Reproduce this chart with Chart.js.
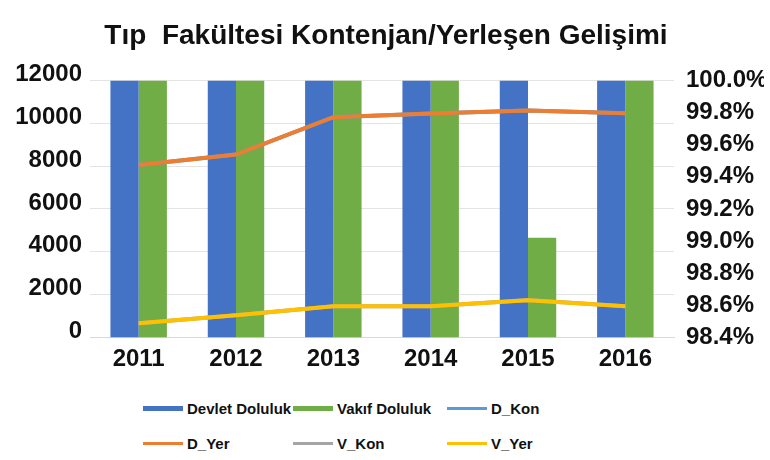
<!DOCTYPE html>
<html>
<head>
<meta charset="utf-8">
<script src="https://cdn.jsdelivr.net/npm/chart.js@4.4.1/dist/chart.umd.min.js"></script>
<style>
  body { margin: 0; background: #fff; }
  #wrap { position: relative; width: 770px; height: 460px; }
  #chartBox { position: absolute; left: 0; top: 0; width: 770px; height: 382px; }
  #legend {
    position: absolute; left: 143px; top: 397px;
    display: grid; grid-template-columns: 150px 154px 120px; row-gap: 13px;
    font-family: "Liberation Sans", Arial, sans-serif;
    font-weight: bold; font-size: 15px; color: #111;
  }
  .item { display: flex; align-items: center; height: 22px; white-space: nowrap; }
  .swatch { width: 40px; margin-right: 4px; flex: none; }
</style>
</head>
<body>
<div id="wrap">
  <div id="chartBox"><canvas id="chart"></canvas></div>
  <div id="legend"></div>
</div>
<script>
// chart data
const years = ['2011', '2012', '2013', '2014', '2015', '2016'];
const devletDoluluk = [100.0, 100.0, 100.0, 100.0, 100.0, 100.0];
const vakifDoluluk = [100.0, 100.0, 100.0, 100.0, 99.02, 100.0];
const dKon = [8050, 8540, 10290, 10460, 10600, 10470];
const dYer = [8050, 8540, 10290, 10460, 10600, 10470];
const vKon = [650, 1030, 1450, 1450, 1745, 1450];
const vYer = [650, 1030, 1450, 1450, 1730, 1450];

const leftTicks = [0, 2000, 4000, 6000, 8000, 10000, 12000];
const rightTicks = [98.4, 98.6, 98.8, 99.0, 99.2, 99.4, 99.6, 99.8, 100.0];

const FONT = '"Liberation Sans", Arial, sans-serif';

function lineSet(label, data, color, order) {
    return {
        type: 'line',
        label: label,
        data: data,
        yAxisID: 'y',
        borderColor: color,
        backgroundColor: color,
        borderWidth: 4,
        pointRadius: 0,
        tension: 0,
        order: order
    };
}

const ctx = document.getElementById('chart').getContext('2d');
const chart = new Chart(ctx, {
    type: 'bar',
    data: {
        labels: years,
        datasets: [
            {
                label: 'Devlet Doluluk',
                data: devletDoluluk,
                yAxisID: 'y1',
                backgroundColor: '#4472C4',
                categoryPercentage: 0.58,
                barPercentage: 1.0,
                order: 5
            },
            {
                label: 'Vakıf Doluluk',
                data: vakifDoluluk,
                yAxisID: 'y1',
                backgroundColor: '#70AD47',
                categoryPercentage: 0.58,
                barPercentage: 1.0,
                order: 5
            },
            lineSet('D_Kon', dKon, '#5B9BD5', 3),
            lineSet('D_Yer', dYer, '#ED7D31', 1),
            lineSet('V_Kon', vKon, '#A5A5A5', 3),
            lineSet('V_Yer', vYer, '#FFC000', 1)
        ]
    },
    options: {
        responsive: true,
        maintainAspectRatio: false,
        animation: false,
        layout: { padding: { top: 8, left: 8, right: 6, bottom: 0 } },
        plugins: {
            legend: { display: false },
            tooltip: { enabled: false },
            title: {
                display: true,
                text: 'Tıp  Fakültesi Kontenjan/Yerleşen Gelişimi',
                color: '#111',
                font: { family: FONT, size: 28, weight: 'bold' },
                padding: { top: 11, bottom: 28 }
            }
        },
        scales: {
            x: {
                grid: { display: false, drawTicks: false },
                border: { color: '#d9d9d9' },
                ticks: { color: '#111', font: { family: FONT, size: 24, weight: 'bold' }, padding: 8 }
            },
            y: {
                position: 'left',
                min: 0,
                max: 12000,
                afterBuildTicks: function (axis) {
                    axis.ticks = leftTicks.map(v => ({ value: v }));
                },
                afterFit: function (axis) { axis.width = 82; },
                grid: { color: '#e4e4e4', drawTicks: false },
                border: { display: false },
                ticks: {
                    color: '#111',
                    font: { family: FONT, size: 24, weight: 'bold' },
                    padding: 8,
                    labelOffset: -6,
                    callback: function (v) { return String(v); }
                }
            },
            y1: {
                position: 'right',
                min: 98.4,
                max: 100.0,
                afterBuildTicks: function (axis) {
                    axis.ticks = rightTicks.map(v => ({ value: v }));
                },
                afterFit: function (axis) { axis.width = 90; },
                grid: { display: false, drawTicks: false },
                border: { display: false },
                ticks: {
                    color: '#111',
                    font: { family: FONT, size: 24, weight: 'bold' },
                    padding: 12,
                    autoSkip: false,
                    callback: function (v) { return Number(v).toFixed(1) + '%'; }
                }
            }
        }
    }
});

// legend in a 3x2 grid, built from the datasets
const legendBox = document.getElementById('legend');
chart.data.datasets.forEach(function (ds) {
    const item = document.createElement('div');
    item.className = 'item';
    const sw = document.createElement('span');
    sw.className = 'swatch';
    sw.style.height = ds.type === 'line' ? '3px' : '5px';
    sw.style.background = ds.type === 'line' ? ds.borderColor : ds.backgroundColor;
    const txt = document.createElement('span');
    txt.textContent = ds.label;
    item.appendChild(sw);
    item.appendChild(txt);
    legendBox.appendChild(item);
});
</script>
</body>
</html>
